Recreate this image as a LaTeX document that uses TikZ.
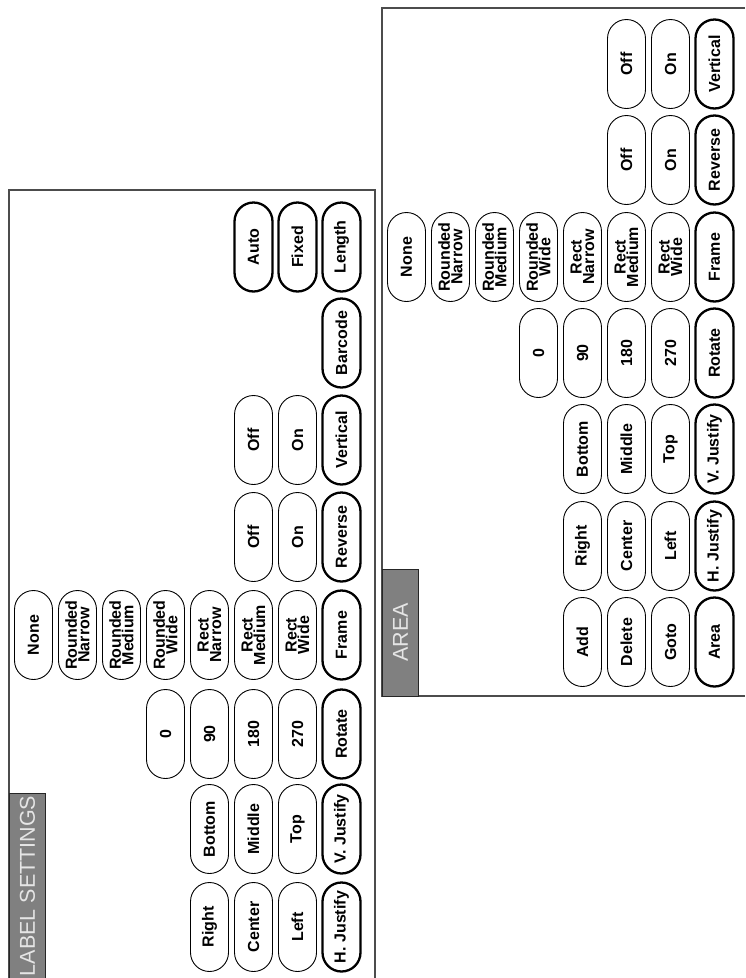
\documentclass[tikz,border=0pt]{standalone}
\usepackage{fontspec}
\setmainfont{Liberation Sans}
\usetikzlibrary{shapes.misc}
\begin{document}
\begin{tikzpicture}[x=1pt,y=1pt,
  btn/.style={rounded rectangle, draw=black, line width=0.9pt, minimum width=89pt, minimum height=38pt, inner sep=0pt, rotate=90, font=\bfseries\fontsize{16}{12.5}\selectfont, align=center},
  bbtn/.style={btn, line width=2.3pt},
  panelline/.style={line width=1.5pt, draw=black!70},
  titlebox/.style={fill=black!50, draw=black!85, line width=1pt},
  titletext/.style={text=white!90!black, font=\fontsize{21.5}{21.5}\selectfont, rotate=90, inner sep=0pt}]
\useasboundingbox (0,0) rectangle (745,-978);
\fill[white] (0,0) rectangle (745,-978);
% panels
\draw[panelline] (9,-978) -- (9,-190) -- (375,-190) -- (375,-978);
\draw[panelline] (745,-8) -- (382,-8) -- (382,-696) -- (745,-696);
\draw[titlebox] (9,-978) -- (9,-793) -- (45,-793) -- (45,-978);
\node[titletext] (ltitle) at (27.5,-886) {LABEL SETTINGS};
\draw[titlebox] (382,-569) rectangle (418,-696);
\node[titletext] (rtitle) at (400.5,-632.5) {AREA};
% ===== left panel =====
\node[bbtn] (lAuto)   at (253.5,-247) {Auto};
\node[bbtn] (lFixed)  at (297.5,-247) {Fixed};
\node[bbtn] (lLength) at (341.5,-247) {Length};
\node[bbtn] (lBarcode) at (341.5,-343) {Barcode};
\node[btn]  (lOffA) at (253.5,-440) {Off};
\node[btn]  (lOnA)  at (297.5,-440) {On};
\node[bbtn] (lVert) at (341.5,-440) {Vertical};
\node[btn]  (lOffB) at (253.5,-537) {Off};
\node[btn]  (lOnB)  at (297.5,-537) {On};
\node[bbtn] (lRev)  at (341.5,-537) {Reverse};
\node[btn]  (lNone) at (33.5,-635) {None};
\node[btn]  (lRN)   at (77.5,-635) {Rounded\\Narrow};
\node[btn]  (lRM)   at (121.5,-635) {Rounded\\Medium};
\node[btn]  (lRW)   at (165.5,-635) {Rounded\\Wide};
\node[btn]  (lQN)   at (209.5,-635) {Rect\\Narrow};
\node[btn]  (lQM)   at (253.5,-635) {Rect\\Medium};
\node[btn]  (lQW)   at (297.5,-635) {Rect\\Wide};
\node[bbtn] (lFrame) at (341.5,-635) {Frame};
\node[btn]  (l0)   at (165.5,-734) {0};
\node[btn]  (l90)  at (209.5,-734) {90};
\node[btn]  (l180) at (253.5,-734) {180};
\node[btn]  (l270) at (297.5,-734) {270};
\node[bbtn] (lRot) at (341.5,-734) {Rotate};
\node[btn]  (lBottom) at (209.5,-829) {Bottom};
\node[btn]  (lMiddle) at (253.5,-829) {Middle};
\node[btn]  (lTop)    at (297.5,-829) {Top};
\node[bbtn] (lVJ)     at (341.5,-829) {V. Justify};
\node[btn]  (lRight)  at (209.5,-927) {Right};
\node[btn]  (lCenter) at (253.5,-927) {Center};
\node[btn]  (lLeft)   at (297.5,-927) {Left};
\node[bbtn] (lHJ)     at (341.5,-927) {H. Justify};
% ===== right panel =====
\node[btn]  (rOffA) at (626.5,-64) {Off};
\node[btn]  (rOnA)  at (670.5,-64) {On};
\node[bbtn] (rVert) at (714.5,-64) {Vertical};
\node[btn]  (rOffB) at (626.5,-160) {Off};
\node[btn]  (rOnB)  at (670.5,-160) {On};
\node[bbtn] (rRev)  at (714.5,-160) {Reverse};
\node[btn]  (rNone) at (406.5,-257) {None};
\node[btn]  (rRN)   at (450.5,-257) {Rounded\\Narrow};
\node[btn]  (rRM)   at (494.5,-257) {Rounded\\Medium};
\node[btn]  (rRW)   at (538.5,-257) {Rounded\\Wide};
\node[btn]  (rQN)   at (582.5,-257) {Rect\\Narrow};
\node[btn]  (rQM)   at (626.5,-257) {Rect\\Medium};
\node[btn]  (rQW)   at (670.5,-257) {Rect\\Wide};
\node[bbtn] (rFrame) at (714.5,-257) {Frame};
\node[btn]  (r0)   at (538.5,-353) {0};
\node[btn]  (r90)  at (582.5,-353) {90};
\node[btn]  (r180) at (626.5,-353) {180};
\node[btn]  (r270) at (670.5,-353) {270};
\node[bbtn] (rRot) at (714.5,-353) {Rotate};
\node[btn]  (rBottom) at (582.5,-449) {Bottom};
\node[btn]  (rMiddle) at (626.5,-449) {Middle};
\node[btn]  (rTop)    at (670.5,-449) {Top};
\node[bbtn] (rVJ)     at (714.5,-449) {V. Justify};
\node[btn]  (rRight)  at (582.5,-546) {Right};
\node[btn]  (rCenter) at (626.5,-546) {Center};
\node[btn]  (rLeft)   at (670.5,-546) {Left};
\node[bbtn] (rHJ)     at (714.5,-546) {H. Justify};
\node[btn]  (rAdd)    at (582.5,-642) {Add};
\node[btn]  (rDelete) at (626.5,-642) {Delete};
\node[btn]  (rGoto)   at (670.5,-642) {Goto};
\node[bbtn] (rArea)   at (714.5,-642) {Area};
\end{tikzpicture}
\end{document}
